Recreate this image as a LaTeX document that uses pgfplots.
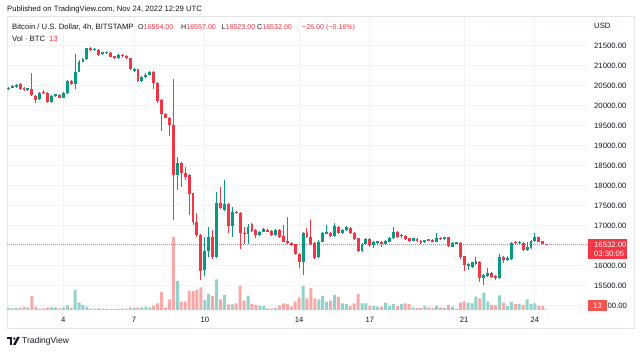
\documentclass[border=0pt]{standalone}
\usepackage{pgfplots}
\usepackage{pgfplotstable}
\pgfplotsset{compat=1.18}
\usepackage{fontspec}
\setmainfont{Liberation Sans}
\definecolor{cgreen}{HTML}{089981}
\definecolor{cred}{HTML}{F23645}
\definecolor{cred2}{HTML}{F05350}
\definecolor{vgreen}{HTML}{92D2CC}
\definecolor{vred}{HTML}{F7A9A7}
\definecolor{gridc}{HTML}{F0F3FA}
\definecolor{tc}{HTML}{131722}
\definecolor{framec}{HTML}{E0E3EB}

% k = candle index (4h), Nov 1 16:00 = 0
\pgfplotstableread{
k o h l c v
0 20430 20480 20400 20450 2
1 20460 20520 20440 20483 1.7
2 20480 20560 20460 20525 2
5 20410 20450 20380 20425 2.7
8 20167 20340 20140 20317 1.3
11 20108 20270 20083 20250 2.7
12 20250 20310 20230 20290 2.7
14 20210 20350 20200 20333 2.7
15 20333 20660 20310 20633 4.7
17 20550 21300 20417 20860 20
18 20860 21140 20840 21110 7.7
19 21110 21200 21090 21175 5
20 21175 21460 21150 21440 3.3
22 21400 21440 21380 21410 1
24 21300 21360 21280 21340 1
25 21320 21350 21300 21330 1
28 21190 21300 21180 21275 1
32 20883 20950 20860 20917 2.3
34 20633 20760 20610 20733 2.7
35 20733 20820 20700 20783 3.3
36 20783 20880 20770 20858 2.7
43 18275 18733 17900 18567 29
50 15900 16730 15750 16385 10
51 16385 16983 16233 16717 16
53 16217 17858 16200 17567 30.7
55 17400 18150 17380 17550 15
57 17000 17480 16733 17358 5.7
61 16800 17050 16550 16983 14.3
64 16775 16880 16750 16858 4
65 16858 16940 16840 16917 4
68 16775 16920 16760 16900 2
75 16108 16840 15775 16817 24
79 16217 16650 16192 16608 10.7
80 16608 16850 16590 16817 14
81 16808 17025 16790 16833 8.3
83 16750 17083 16730 17000 15
85 16833 16920 16800 16900 6.7
86 16900 16990 16880 16967 6
90 16383 16570 16360 16550 6.7
91 16550 16690 16530 16667 6.7
93 16517 16630 16450 16600 4
94 16583 16630 16560 16600 3.3
96 16550 16640 16530 16625 7.3
97 16608 16730 16590 16708 4
98 16692 16983 16680 16858 6
100 16740 16800 16700 16750 6
103 16633 16710 16620 16692 2.7
106 16600 16660 16580 16640 4
109 16608 16817 16590 16692 4
111 16667 16730 16650 16717 2
113 16483 16600 16470 16567 3.3
114 16560 16610 16540 16570 1.3
117 15992 16080 15900 16058 7.3
118 15983 16110 15950 16092 6.7
119 16050 16233 16030 16125 13.3
121 15692 15800 15525 15775 17.3
122 15750 15942 15730 15833 8.3
125 15692 16300 15680 16233 14.7
127 16150 16250 16120 16200 4
128 16167 16590 16150 16567 8
130 16567 16630 16550 16608 6
132 16400 16600 16380 16467 10.7
133 16442 16650 16420 16633 6
134 16633 16817 16610 16733 6.7
}\up

\pgfplotstableread{
k o h l c v
3 20540 20570 20390 20417 2.3
4 20440 20470 20380 20400 3.3
6 20417 20817 20250 20275 14
7 20250 20280 20083 20150 3.3
9 20340 20390 20290 20320 1.7
10 20333 20360 20083 20108 2.3
13 20275 20300 20190 20210 1.7
16 20633 20660 20530 20550 2.3
21 21440 21470 21380 21400 1.3
23 21400 21420 21250 21275 1.7
26 21320 21340 21220 21235 1
27 21250 21260 21170 21190 1
29 21275 21300 21230 21250 1.3
30 21250 21270 21170 21190 1.3
31 21190 21200 20890 20917 2.7
33 20917 20930 20600 20633 2.7
37 20858 20870 20417 20583 4.3
38 20583 20600 20080 20125 6.7
39 20150 20170 19383 19800 18
40 19800 19820 19690 19708 2.7
41 19708 19720 19258 19525 10.7
42 19525 20675 17150 18275 73
44 18567 18600 17983 18317 8.3
45 18333 18480 18150 18233 8.3
46 18275 18290 17275 17800 19
47 17817 17830 17025 17108 19
48 17108 17317 16730 16775 20
49 16775 16800 15650 15875 22.7
52 16717 16900 16180 16217 14
54 17567 17983 17420 17442 10.7
56 17550 17570 16817 17000 5.7
58 17358 17380 17290 17317 6.7
59 17317 17340 16417 16833 24
60 16833 16983 16550 16800 9.3
62 17042 17083 16860 16883 6
63 16900 16920 16692 16775 5
66 16900 16920 16840 16858 1.7
67 16883 16900 16750 16775 1.3
69 16900 16920 16710 16733 4.7
70 16750 17025 16590 16608 6.7
71 16633 17233 16540 16567 6
72 16583 16600 16500 16525 3.3
73 16542 16560 16280 16300 8.3
74 16300 16320 15942 16108 12.3
76 16817 16942 16700 16717 11.7
77 16717 17150 16530 16550 22
78 16567 16590 16170 16192 11.7
82 16833 16850 16730 16750 9.3
84 16983 17000 16810 16833 13.3
87 16958 16980 16800 16817 4
88 16833 16850 16640 16667 6.7
89 16692 16710 16360 16383 16
92 16667 16690 16480 16533 4
95 16608 16630 16480 16550 3.3
99 16858 16870 16710 16733 4
101 16750 16770 16640 16667 6.7
102 16692 16710 16610 16633 6
104 16667 16690 16600 16633 2
105 16633 16650 16560 16583 2
107 16667 16680 16620 16633 2.7
108 16650 16670 16590 16608 2
110 16708 16730 16650 16667 2.7
112 16717 16730 16480 16500 5
115 16567 16600 16167 16233 7.3
116 16250 16260 15883 16025 8.7
120 16108 16125 15608 15692 11.7
123 15833 15850 15690 15717 5
124 15750 15770 15660 15692 5
126 16233 16250 16080 16150 7.3
129 16583 16620 16550 16567 6
131 16583 16600 16380 16400 5
135 16717 16730 16590 16608 4
136 16617 16630 16540 16554 4
137 16554 16557 16523 16532 0.7
}\down

\newcommand{\fs}{\fontsize{7.7}{9}\selectfont}
\newcommand{\fsl}{\fontsize{7.1}{9}\selectfont}

\begin{document}
\begin{tikzpicture}[x=1pt,y=1pt]
\path[use as bounding box, fill=white] (0,0) rectangle (640,352);
\draw[framec, line width=1pt] (7,23) rectangle (634,335);

% grid and tick labels
\begin{axis}[
  at={(7pt,39pt)}, anchor=south west, scale only axis, width=581pt, height=296pt,
  xmin=-0.33, xmax=147.5, ymin=14825, ymax=22225,
  axis line style={draw=none},
  scaled y ticks=false, scaled x ticks=false,
  xtick={14,32,50,74,92,116,134}, xticklabels={4,7,10,14,17,21,24},
  ytick={15000,15500,16000,16500,17000,17500,18000,18500,19000,19500,20000,20500,21000,21500},
  yticklabels={,15500.00,16000.00,,17000.00,17500.00,18000.00,18500.00,19000.00,19500.00,20000.00,20500.00,21000.00,21500.00},
  yticklabel pos=right,
  major tick length=0pt,
  grid=major, grid style={draw=gridc, line width=1pt},
  ticklabel style={font=\fs, text=tc},
  xticklabel style={anchor=base, yshift=-10pt},
  yticklabel style={anchor=west, inner sep=0pt, xshift=6pt},
]
\end{axis}

% volume
\begin{axis}[
  at={(7pt,39pt)}, anchor=south west, scale only axis, width=581pt, height=296pt,
  xmin=-0.33, xmax=147.5, ymin=-3, ymax=293, axis lines=none
]
\addplot[ybar, bar width=3pt, bar shift=0pt, fill=vgreen, draw=none] table[x=k, y=v] \up;
\addplot[ybar, bar width=3pt, bar shift=0pt, fill=vred, draw=none] table[x=k, y=v] \down;
\end{axis}

% candles
\begin{axis}[
  at={(7pt,39pt)}, anchor=south west, scale only axis, width=581pt, height=296pt,
  xmin=-0.33, xmax=147.5, ymin=14825, ymax=22225, axis lines=none
]
\addplot[cred!70, line width=0.8pt, dash pattern=on 1pt off 1pt] coordinates {(-0.33,16532) (147.5,16532)};
\addplot[draw=none, error bars/.cd, y dir=plus, y explicit, error mark=none,
  error bar style={draw=cgreen, line width=1pt}]
  table[x=k, y=l, y error expr=\thisrow{h}-\thisrow{l}] \up;
\addplot[draw=none, error bars/.cd, y dir=plus, y explicit, error mark=none,
  error bar style={draw=cgreen, line width=2.9pt}]
  table[x=k, y=o, y error expr={max(\thisrow{c}-\thisrow{o},30)}] \up;
\addplot[draw=none, error bars/.cd, y dir=plus, y explicit, error mark=none,
  error bar style={draw=cred, line width=1pt}]
  table[x=k, y=l, y error expr=\thisrow{h}-\thisrow{l}] \down;
\addplot[draw=none, error bars/.cd, y dir=plus, y explicit, error mark=none,
  error bar style={draw=cred, line width=2.9pt}]
  table[x=k, y=c, y error expr={max(\thisrow{o}-\thisrow{c},30)}] \down;
\end{axis}

% texts
\node[anchor=base west, inner sep=0, font=\fs, text=tc] at (7,340.3) {Published on TradingView.com, Nov 24, 2022 12:29 UTC};
\node[anchor=base west, inner sep=0, font=\fs, text=tc] at (12,322.5) {Bitcoin / U.S. Dollar, 4h, BITSTAMP};
\node[anchor=base west, inner sep=0, font=\fsl, text=tc] at (138,322.5) {O\textcolor{cred}{16554.00}};
\node[anchor=base west, inner sep=0, font=\fsl, text=tc] at (181,322.5) {H\textcolor{cred}{16557.00}};
\node[anchor=base west, inner sep=0, font=\fsl, text=tc] at (221.5,322.5) {L\textcolor{cred}{16523.00}};
\node[anchor=base west, inner sep=0, font=\fsl, text=tc] at (257,322.5) {C\textcolor{cred}{16532.00}};
\node[anchor=base west, inner sep=0, font=\fsl, text=cred] at (302,322.5) {−26.00 (−0.16\%)};
\node[anchor=base west, inner sep=0, font=\fs, text=tc] at (12,310.3) {Vol · BTC};
\node[anchor=base west, inner sep=0, font=\fs, text=cred] at (49,310.3) {13};
\node[anchor=base west, inner sep=0, font=\fs, text=tc] at (594,323.3) {USD};

% current price label
\fill[cred] (588,93) rectangle (626.5,113);
\node[anchor=base west, inner sep=0, font=\fs, text=white] at (594,104.3) {16532.00};
\node[anchor=base west, inner sep=0, font=\fs, text=white] at (594,95.3) {03:30:05};
% volume label, covering the start of 15000.00
\fill[cred2] (588,41) rectangle (607,51.5);
\node[anchor=base, inner sep=0, font=\fs, text=white] at (597.5,43.5) {13};
\node[anchor=base west, inner sep=0, font=\fs, text=tc] at (607.5,43.3) {00.00};

% logo
\fill[tc] (7,15) rectangle (12.3,12.6);
\fill[tc] (9.8,12.6) rectangle (12.3,7.2);
\fill[tc] (14.3,13.4) circle (1.25);
\fill[tc] (17.2,15) -- (19.8,15) -- (15.6,7.2) -- (13.0,7.2) -- cycle;
\node[anchor=base west, inner sep=0, font=\fontsize{8.5}{10}\selectfont, text=tc] at (22,8) {TradingView};
\end{tikzpicture}
\end{document}
